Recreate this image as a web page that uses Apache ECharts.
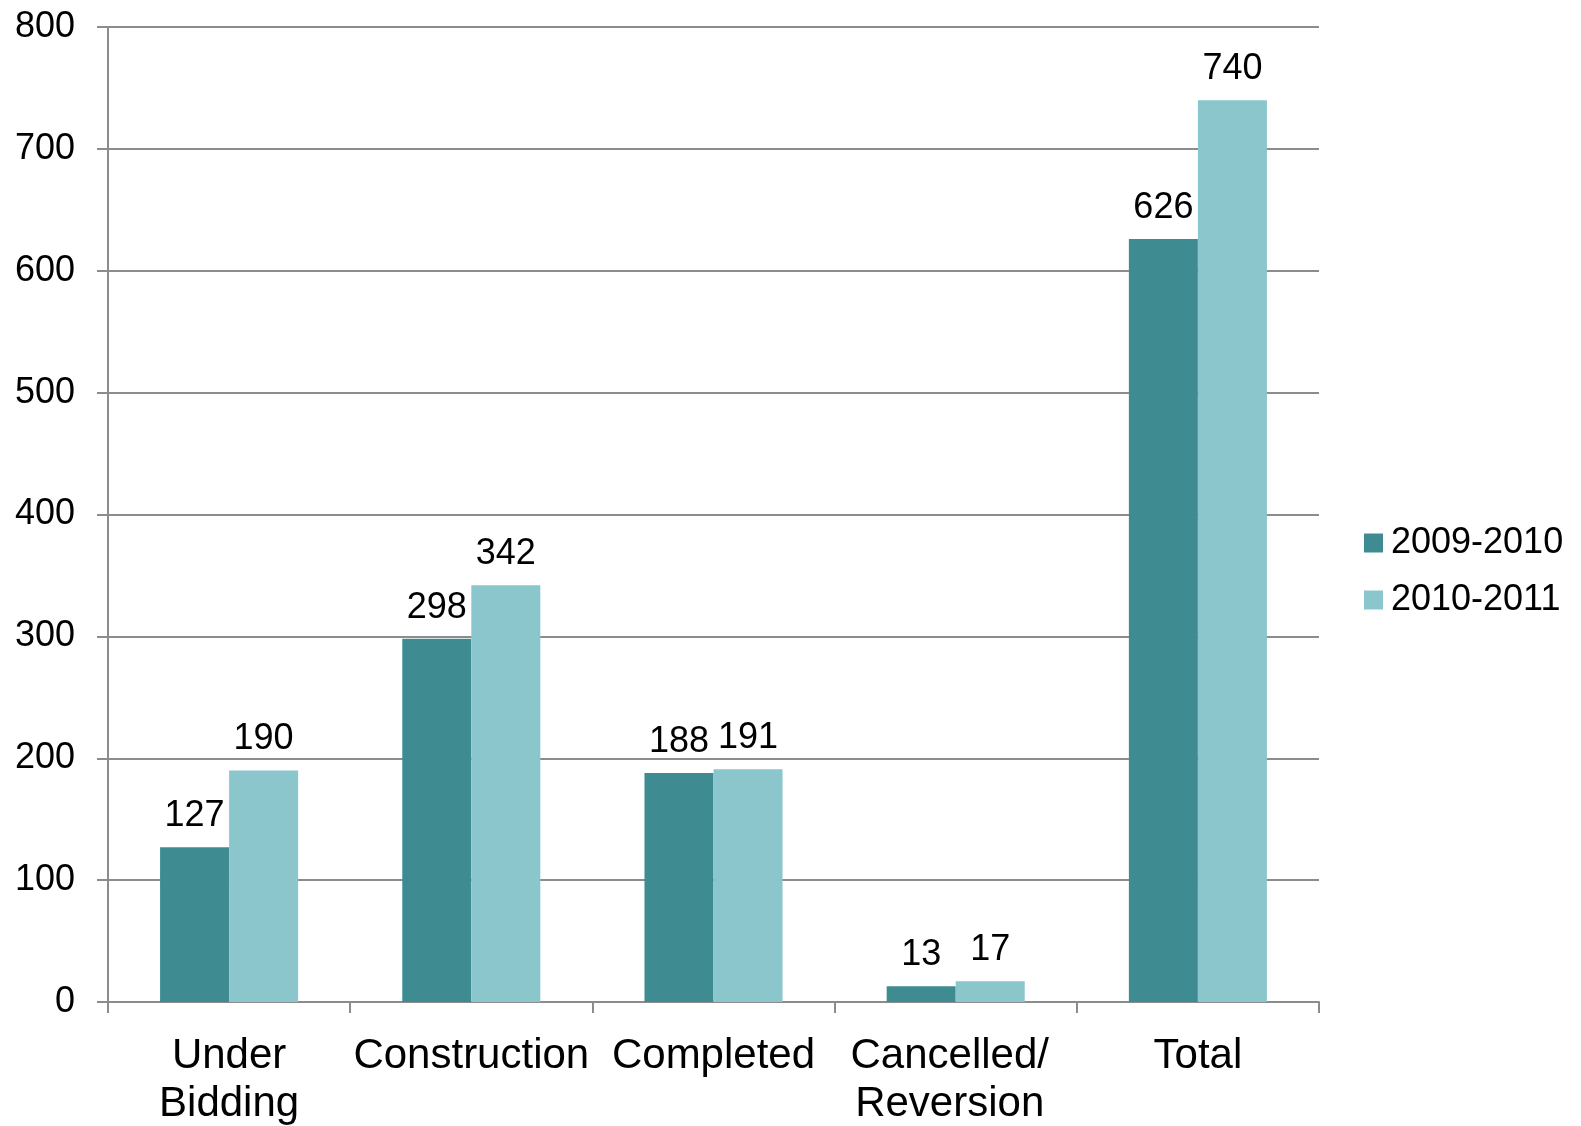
<!DOCTYPE html>
<html>
<head>
<meta charset="utf-8">
<script src="https://cdn.jsdelivr.net/npm/echarts@6/dist/echarts.min.js"></script>
<style>
  html, body { margin: 0; padding: 0; background: #fff; }
  #chart { width: 1581px; height: 1126px; }
</style>
</head>
<body>
<div id="chart"></div>
<script>
// categories and series values
const categories = ['Under\nBidding', 'Construction', 'Completed', 'Cancelled/\nReversion', 'Total']
const seriesNames = ['2009-2010', '2010-2011']
const values0910 = [127, 298, 188, 13, 626]
const values1011 = [190, 342, 191, 17, 740]
const colors = ['#3e8c92', '#8bc6cd']

const chart = echarts.init(document.getElementById('chart'))

const labelStyle = {
  show: true,
  position: 'top',
  distance: 13,
  color: '#000',
  fontSize: 36,
  fontFamily: 'Liberation Sans, Arial, sans-serif'
}

chart.setOption({
  animation: false,
  textStyle: { fontFamily: 'Liberation Sans, Arial, sans-serif' },
  grid: { left: 108, right: 262, top: 27, bottom: 124, outerBoundsMode: 'none' },
  legend: {
    orient: 'vertical',
    left: 1364,
    top: 525,
    padding: 0,
    icon: 'rect',
    itemWidth: 19,
    itemHeight: 19,
    itemGap: 21,
    textStyle: { fontSize: 36, color: '#000', padding: [0, 0, 0, 3] },
    data: seriesNames
  },
  xAxis: {
    type: 'category',
    data: categories,
    axisLine: { lineStyle: { color: '#8c8c8c', width: 2 } },
    axisTick: { show: true, length: 11, lineStyle: { color: '#8c8c8c', width: 2 } },
    axisLabel: {
      color: '#000',
      fontSize: 42,
      lineHeight: 48,
      margin: 30,
      interval: 0,
      // the reference wraps Cancelled/Reversion a little left of centre
      formatter: (v) => v.indexOf('Cancelled') === 0 ? '{s|' + v.replace('\n', '}\n{s|') + '}' : v,
      rich: { s: { fontSize: 42, lineHeight: 48, color: '#000', padding: [0, 12, 0, 0] } }
    }
  },
  yAxis: {
    type: 'value',
    min: 0,
    max: 800,
    interval: 100,
    axisLine: { show: true, lineStyle: { color: '#8c8c8c', width: 2 } },
    axisTick: { show: true, length: 11, lineStyle: { color: '#8c8c8c', width: 2 } },
    axisLabel: { color: '#000', fontSize: 36, margin: 33 },
    splitLine: { show: true, lineStyle: { color: '#8c8c8c', width: 2 } }
  },
  series: [
    {
      name: seriesNames[0],
      type: 'bar',
      data: values0910,
      barGap: '0%',
      barCategoryGap: '43%',
      itemStyle: { color: colors[0] },
      label: labelStyle
    },
    {
      name: seriesNames[1],
      type: 'bar',
      data: values1011,
      barGap: '0%',
      barCategoryGap: '43%',
      itemStyle: { color: colors[1] },
      label: labelStyle
    }
  ]
})
</script>
</body>
</html>
